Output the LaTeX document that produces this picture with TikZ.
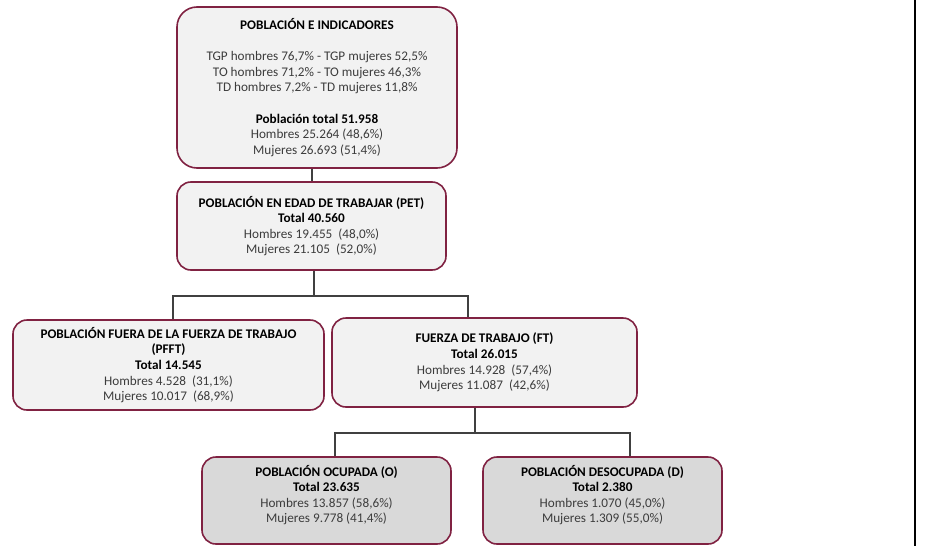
\documentclass[tikz,border=0pt]{standalone}
\usepackage{fontspec}
\setmainfont{Carlito}
\definecolor{borde}{RGB}{128,34,66}
\definecolor{claro}{RGB}{242,242,242}
\definecolor{oscuro}{RGB}{217,217,217}
\definecolor{linea}{RGB}{64,64,64}
\definecolor{texto}{RGB}{60,60,60}
\newcommand{\titulo}[1]{\textcolor{black}{\bfseries #1}}
\begin{document}
\begin{tikzpicture}[x=1pt, y=-1pt,
    main/.style = {draw=borde, line width=1.6pt, rounded corners=14pt, fill=claro, align=center,
                   inner sep=0pt, text=texto, font=\fontsize{13.2}{15.6}\selectfont},
    gris/.style = {main, fill=oscuro, text depth=13pt},
    link/.style = {draw=linea, line width=1.8pt}]
    \useasboundingbox (0,0) rectangle (931,546);

    \node[main, rounded corners=20pt, minimum width=280pt, minimum height=161pt] (ind) at (317,87.5)
        {\titulo{POBLACIÓN E INDICADORES}\\[15.6pt]
         TGP hombres 76,7\% - TGP mujeres 52,5\%\\
         TO hombres 71,2\% - TO mujeres 46,3\%\\
         TD hombres 7,2\% - TD mujeres 11,8\%\\[15.6pt]
         \titulo{Población total 51.958}\\
         Hombres 25.264 (48,6\%)\\
         Mujeres 26.693 (51,4\%)};
    \node[main, minimum width=269pt, minimum height=88pt] (pet) at (311.5,226)
        {\titulo{POBLACIÓN EN EDAD DE TRABAJAR (PET)}\\
         \titulo{Total 40.560}\\
         Hombres 19.455\ \ (48,0\%)\\
         Mujeres 21.105\ \ (52,0\%)};
    \node[main, minimum width=311pt, minimum height=90pt] (pfft) at (168.5,365)
        {\titulo{POBLACIÓN FUERA DE LA FUERZA DE TRABAJO}\\
         \titulo{(PFFT)}\\
         \titulo{Total 14.545}\\
         Hombres 4.528\ \ (31,1\%)\\
         Mujeres 10.017\ \ (68,9\%)};
    \node[main, minimum width=305pt, minimum height=89pt] (ft) at (484.5,362.5)
        {\titulo{FUERZA DE TRABAJO (FT)}\\
         \titulo{Total 26.015}\\
         Hombres 14.928\ \ (57,4\%)\\
         Mujeres 11.087\ \ (42,6\%)};
    \node[gris, minimum width=249pt, minimum height=87pt] (o) at (326.5,500.5)
        {\titulo{POBLACIÓN OCUPADA (O)}\\
         \titulo{Total 23.635}\\
         Hombres 13.857 (58,6\%)\\
         Mujeres 9.778 (41,4\%)};
    \node[gris, minimum width=239pt, minimum height=87pt] (d) at (602.5,500.5)
        {\titulo{POBLACIÓN DESOCUPADA (D)}\\
         \titulo{Total 2.380}\\
         Hombres 1.070 (45,0\%)\\
         Mujeres 1.309 (55,0\%)};

    % conectores
    \coordinate (r1) at (314,296);
    \coordinate (r2) at (475,433);
    \draw[link] ([xshift=-5pt]ind.south) -- ([xshift=-5pt]ind.south |- pet.north);
    \draw[link] (pet.south -| r1) -- (r1);
    \draw[link] ([xshift=4.5pt]pfft.north) |- (r1) -| ([xshift=-16.5pt]ft.north);
    \draw[link] (ft.south -| r2) -- (r2);
    \draw[link] ([xshift=8.5pt]o.north) |- (r2) -| ([xshift=27.5pt]d.north);

    \draw[line width=2.5pt] (915,0) -- (915,546);
\end{tikzpicture}
\end{document}
